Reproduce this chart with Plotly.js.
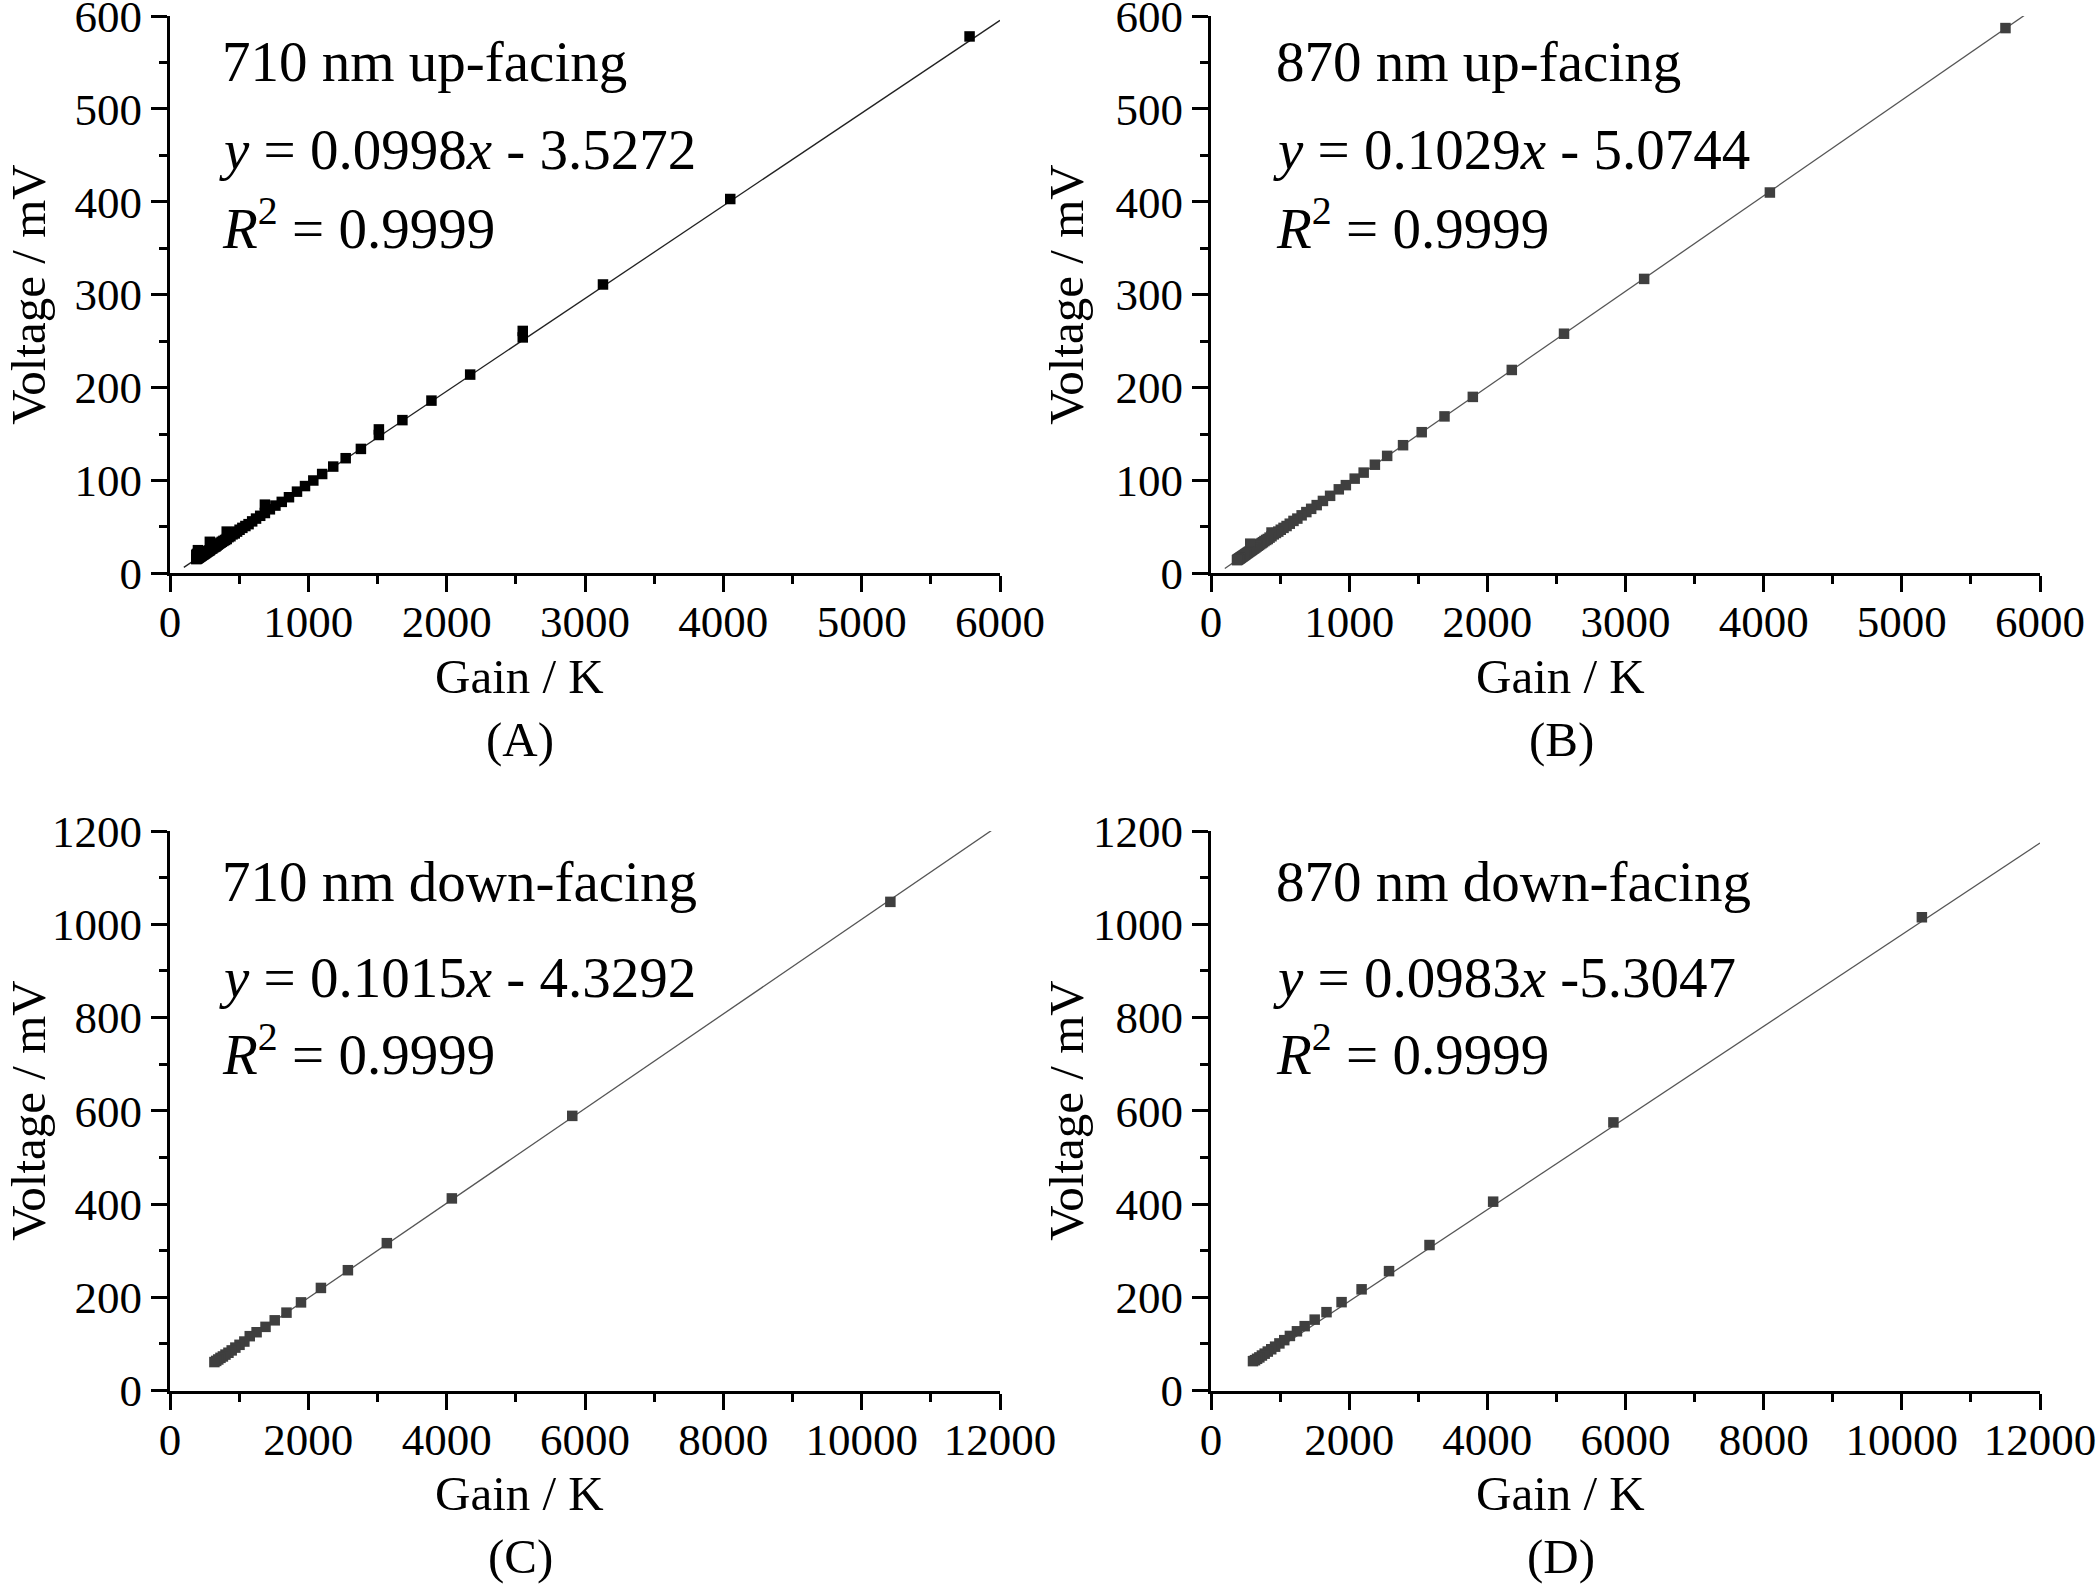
<!DOCTYPE html>
<html>
<head>
<meta charset="utf-8">
<script src="https://cdn.plot.ly/plotly-3.0.1.min.js"></script>
<style>html,body{margin:0;padding:0;background:#fff;}#chart{width:2096px;height:1585px;}</style>
</head>
<body>
<div id="chart"></div>
<script>
// ---------------- DATA ----------------
const gainA = [5780, 4050, 3130, 2550, 2550, 2170, 1890, 1680, 1510, 1510, 1380, 1270, 1180, 1100, 1036, 976, 918, 860, 808, 762, 722, 686, 686, 652, 622, 594, 568, 545, 523, 503, 485, 468, 452, 437, 423, 410, 410, 398, 386, 375, 365, 355, 346, 337, 329, 321, 314, 307, 300, 294, 288, 288, 282, 276, 271, 266, 261, 256, 252, 247, 243, 239, 235, 231, 228, 224, 221, 217, 214, 211, 208, 205, 202, 202, 199, 196, 196, 193, 190, 190];
const voltA = [578, 403, 311, 254, 261, 214, 186, 165, 149, 155, 134, 124, 115, 107, 100, 94, 88, 82, 77, 73, 69, 65, 74, 62, 59, 56, 53, 51, 49, 47, 45, 43, 42, 40, 39, 37, 45, 36, 35, 34, 33, 32, 31, 30, 29, 28.5, 28, 27, 26.5, 26, 25, 34, 24.5, 24, 23.5, 23, 22.5, 22, 21.5, 21, 20.7, 20.3, 20, 19.5, 19.2, 18.8, 18.5, 18, 17.8, 17.5, 17.2, 16.9, 16.5, 25, 16.3, 16, 21, 15.7, 15.4, 20];

const gainB = [5750, 4045, 3135, 2555, 2177, 1895, 1690, 1525, 1390, 1275, 1186, 1105, 1040, 976, 925, 862, 810, 765, 725, 690, 656, 625, 597, 570, 547, 525, 505, 487, 470, 454, 438, 438, 424, 411, 399, 387, 376, 366, 356, 347, 338, 330, 322, 315, 308, 301, 295, 289, 284, 284, 278, 272, 267, 262, 257, 252, 248, 244, 240, 236, 232, 228, 225, 221, 218, 215, 212, 209, 206, 203, 200, 197, 194, 191, 188];
const voltB = [587, 410, 317, 258, 219, 190, 169, 152, 138, 126.5, 117, 108.5, 102, 95, 90.5, 83.5, 78, 73.5, 69.5, 66, 62.5, 59, 56.5, 53.5, 51, 49, 47, 45, 43.5, 42, 40, 44, 38.5, 37, 36, 34.8, 33.6, 32.6, 31.6, 30.6, 29.8, 28.9, 28, 27.3, 26.6, 25.9, 25.3, 24.7, 24.2, 32, 23.5, 23, 22.4, 21.9, 21.4, 20.9, 20.4, 20, 19.6, 19.2, 18.8, 18.4, 18, 17.7, 17.4, 17, 16.7, 16.4, 16.1, 15.8, 15.5, 15.2, 15, 14.6, 14.3];

const gainC = [10415, 5816, 4075, 3135, 2572, 2182, 1894, 1684, 1514, 1381, 1252, 1153, 1075, 1005, 945, 892, 845, 802, 765, 730, 698, 668, 642];
const voltC = [1048, 589, 412, 316, 258, 220, 189, 167, 150.5, 136.5, 125, 116.5, 105, 98, 92, 86, 81, 77, 73, 70, 66.5, 63.5, 61];

const gainD = [10290, 5825, 4084, 3163, 2577, 2180, 1890, 1672, 1501, 1356, 1244, 1142, 1060, 990, 928, 872, 822, 777, 737, 700, 667, 637, 608];
const voltD = [1015, 575, 405, 312, 256, 217, 189.5, 168, 152, 138, 127, 117, 108, 101, 94, 88.5, 83.5, 79, 75, 71, 68, 65, 63];

// linear fits printed on the chart
const fitSlope = [0.0998, 0.1029, 0.1015, 0.0983];
const fitIntercept = [-3.5272, -5.0744, -4.3292, -5.3047];
const fitXStart = [100, 100, 640, 600];
const fitXEnd = [6000, 6000, 12000, 12000];

const panelNames = ['710 nm up-facing', '870 nm up-facing', '710 nm down-facing', '870 nm down-facing'];
const eqTexts = ['<i>y</i> = 0.0998<i>x</i> - 3.5272', '<i>y</i> = 0.1029<i>x</i> - 5.0744', '<i>y</i> = 0.1015<i>x</i> - 4.3292', '<i>y</i> = 0.0983<i>x</i> -5.3047'];
const r2Values = ['0.9999', '0.9999', '0.9999', '0.9999'];
const panelLabels = ['(A)', '(B)', '(C)', '(D)'];
const xTitle = 'Gain / K';
const yTitle = 'Voltage / mV';
const xMax = [6000, 6000, 12000, 12000];
const yMax = [600, 600, 1200, 1200];
const xDtick = [1000, 1000, 2000, 2000];
const yDtick = [100, 100, 200, 200];

// ---------------- LAYOUT ----------------
const W = 2096, H = 1585;
const FONT = 'Liberation Serif, Times New Roman, serif';
const px = v => v / W;
const py = v => 1 - v / H;

// plot area boxes in pixels [left, right, top, bottom]
const boxes = [
  [170, 1000, 16, 573.4],
  [1211, 2040, 16, 573.4],
  [170, 1000, 831, 1390.5],
  [1211, 2040, 831, 1390.5]
];
// text line centres (px) for the three in-plot lines, per row
const textY = [[62, 149, 224], [62, 149, 224], [881, 978, 1050], [881, 978, 1050]];
const markerColors = ['#000000', '#3f3f3f', '#3f3f3f', '#3f3f3f'];
const gains = [gainA, gainB, gainC, gainD];
const volts = [voltA, voltB, voltC, voltD];

const traces = [];
const layout = {
  width: W, height: H,
  margin: {l: 0, r: 0, t: 0, b: 0},
  paper_bgcolor: '#ffffff', plot_bgcolor: 'rgba(0,0,0,0)',
  showlegend: false,
  font: {family: FONT, color: '#000000', size: 44},
  annotations: []
};

for (let i = 0; i < 4; i++) {
  const sfx = i === 0 ? '' : String(i + 1);
  const xa = 'x' + sfx, ya = 'y' + sfx;
  const b = boxes[i];
  // fit line
  traces.push({
    x: [fitXStart[i], fitXEnd[i]],
    y: [fitSlope[i] * fitXStart[i] + fitIntercept[i], fitSlope[i] * fitXEnd[i] + fitIntercept[i]],
    xaxis: xa, yaxis: ya, mode: 'lines', type: 'scatter',
    line: {color: i === 0 ? '#222222' : '#555555', width: 1.3},
    hoverinfo: 'skip'
  });
  // data
  traces.push({
    x: gains[i], y: volts[i], xaxis: xa, yaxis: ya, type: 'scatter', mode: 'markers',
    marker: {symbol: 'square', size: 10.5, color: markerColors[i], line: {width: 0}},
    cliponaxis: false
  });
  const axCommon = {
    showline: true, linecolor: '#000000', linewidth: 3,
    ticks: 'outside', ticklen: 16, tickwidth: 3, tickcolor: '#000000',
    showgrid: false, zeroline: false,
    tickfont: {family: FONT, size: 45, color: '#000000'},
    tickformat: 'd', exponentformat: 'none',
    ticklabeloverflow: 'allow',
    fixedrange: true
  };
  layout['xaxis' + sfx] = Object.assign({}, axCommon, {
    domain: [px(b[0]), px(b[1])], anchor: ya, range: [0, xMax[i]],
    tick0: 0, dtick: xDtick[i], ticklabelstandoff: -9,
    minor: {dtick: xDtick[i] / 2, ticks: 'outside', ticklen: 8, tickwidth: 3, tickcolor: '#000000', showgrid: false}
  });
  layout['yaxis' + sfx] = Object.assign({}, axCommon, {
    domain: [py(b[3]), py(b[2])], anchor: xa, range: [0, yMax[i]],
    tick0: 0, dtick: yDtick[i],
    minor: {dtick: yDtick[i] / 2, ticks: 'outside', ticklen: 8, tickwidth: 3, tickcolor: '#000000', showgrid: false}
  });

  const textLeft = i % 2 === 0 ? 220 : 1274;
  const ann = (text, x, y, size, extra) => Object.assign({
    text: text, xref: 'paper', yref: 'paper', x: px(x), y: py(y),
    xanchor: 'left', yanchor: 'middle', showarrow: false,
    font: {family: FONT, size: size, color: '#000000'}
  }, extra || {});
  layout.annotations.push(ann(panelNames[i], textLeft, textY[i][0], 57));
  layout.annotations.push(ann(eqTexts[i], textLeft - 3, textY[i][1], 57));
  layout.annotations.push(ann('<i>R</i><sup>2</sup> = ' + r2Values[i], textLeft, textY[i][2], 57));
  // axis titles
  const xc = i % 2 === 0 ? 519 : 1560;
  layout.annotations.push(ann(xTitle, xc, b[3] + 103, 49, {xanchor: 'center'}));
  layout.annotations.push(ann(panelLabels[i], xc + 1, b[3] + 166, 49, {xanchor: 'center'}));
  const yx = i % 2 === 0 ? 29 : 1067;
  layout.annotations.push(ann(yTitle, yx, (b[2] + b[3]) / 2, 49, {xanchor: 'center', textangle: -90}));
}

Plotly.newPlot('chart', traces, layout, {staticPlot: true, displayModeBar: false});
</script>
</body>
</html>
